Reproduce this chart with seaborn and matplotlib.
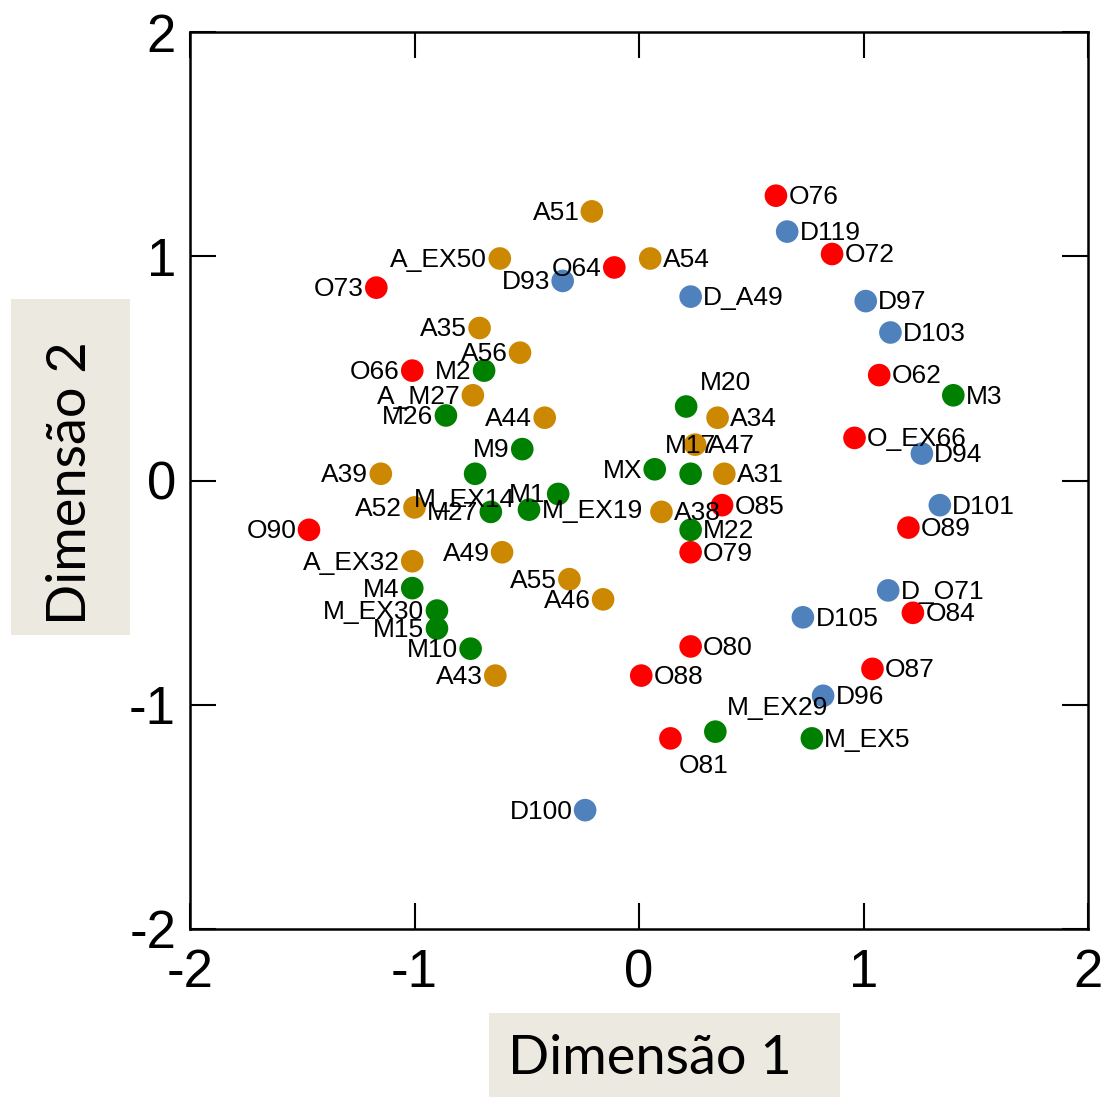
import matplotlib
matplotlib.use("Agg")
import matplotlib.pyplot as plt
import matplotlib.patches as mpatches
import seaborn as sns
import pandas as pd

# Item labels and their coordinates on the two dimensions
rotulos = [
    "O76", "O72", "O64", "O73", "O66", "O62", "O_EX66", "O85", "O90", "O89",
    "O79", "O84", "O80", "O88", "O87", "O81",
    "D119", "D93", "D_A49", "D97", "D103", "D94", "D101", "D_O71", "D105",
    "D96", "D100",
    "M2", "M26", "M20", "M9", "M3", "M_EX14", "M1", "M27", "M_EX19", "MX",
    "M17", "M22", "M4", "M_EX30", "M15", "M10", "M_EX29", "M_EX5",
    "A51", "A_EX50", "A54", "A35", "A56", "A_M27", "A44", "A34", "A47", "A31",
    "A39", "A52", "A38", "A49", "A_EX32", "A55", "A46", "A43",
]
dim1 = [
    0.61, 0.86, -0.11, -1.17, -1.01, 1.07, 0.96, 0.37, -1.47, 1.20,
    0.23, 1.22, 0.23, 0.01, 1.04, 0.14,
    0.66, -0.34, 0.23, 1.01, 1.12, 1.26, 1.34, 1.11, 0.73,
    0.82, -0.24,
    -0.69, -0.86, 0.21, -0.52, 1.40, -0.73, -0.36, -0.66, -0.49, 0.07,
    0.23, 0.23, -1.01, -0.90, -0.90, -0.75, 0.34, 0.77,
    -0.21, -0.62, 0.05, -0.71, -0.53, -0.74, -0.42, 0.35, 0.25, 0.38,
    -1.15, -1.00, 0.10, -0.61, -1.01, -0.31, -0.16, -0.64,
]
dim2 = [
    1.27, 1.01, 0.95, 0.86, 0.49, 0.47, 0.19, -0.11, -0.22, -0.21,
    -0.32, -0.59, -0.74, -0.87, -0.84, -1.15,
    1.11, 0.89, 0.82, 0.80, 0.66, 0.12, -0.11, -0.49, -0.61,
    -0.96, -1.47,
    0.49, 0.29, 0.33, 0.14, 0.38, 0.03, -0.06, -0.14, -0.13, 0.05,
    0.03, -0.22, -0.48, -0.58, -0.66, -0.75, -1.12, -1.15,
    1.20, 0.99, 0.99, 0.68, 0.57, 0.38, 0.28, 0.28, 0.16, 0.03,
    0.03, -0.12, -0.14, -0.32, -0.36, -0.44, -0.53, -0.87,
]
ticks = [-2, -1, 0, 1, 2]

cores = {"O": "#FF0000", "D": "#4F81BD", "M": "#008000", "A": "#CC8800"}

df = pd.DataFrame({"rotulo": rotulos, "dim1": dim1, "dim2": dim2})
df["grupo"] = df["rotulo"].str[0]

# Label placement: side of the marker, plus a few labels set above/below
direita = {
    "O76", "D119", "O72", "A54", "D_A49", "D97", "D103", "O62", "M3",
    "O_EX66", "D94", "A34", "A47", "A31", "O85", "D101", "O89", "M_EX19",
    "A38", "M22", "O79", "D_O71", "O84", "D105", "O80", "O88", "O87",
    "D96", "M_EX5",
}
especiais = {  # offsets in points, text centred
    "M20": (28, 17),
    "M_EX29": (45, 17),
    "M17": (0, 20),
    "O81": (24, -20),
    "M_EX14": (-8, -19),
}

sns.set_theme(style="white")
plt.rcParams["font.family"] = ["Liberation Sans", "DejaVu Sans"]
plt.rcParams["text.color"] = "black"

fig = plt.figure(figsize=(11.15, 10.97), dpi=100)
ax = fig.add_axes([190 / 1115, 1 - 929 / 1097, 898 / 1115, 897 / 1097])

sns.scatterplot(
    data=df, x="dim1", y="dim2", hue="grupo", palette=cores,
    s=265, linewidth=0, legend=False, ax=ax, zorder=3,
)

for r, x, y in zip(rotulos, dim1, dim2):
    if r in especiais:
        dx, dy = especiais[r]
        ha = "center"
    elif r in direita:
        dx, dy, ha = 9, -1, "left"
    else:
        dx, dy, ha = -9, -1, "right"
    ax.annotate(
        r, (x, y), xytext=(dx, dy), textcoords="offset points",
        ha=ha, va="center", fontsize=19, color="black", zorder=4,
    )

ax.set_xlim(-2, 2)
ax.set_ylim(-2, 2)
ax.set_xticks(ticks)
ax.set_yticks(ticks)
ax.set_xticklabels([str(t) for t in ticks])
ax.set_yticklabels([str(t) for t in ticks])
ax.set_xlabel("")
ax.set_ylabel("")
ax.tick_params(
    axis="both", direction="in", length=19, width=1.5, labelsize=38,
    top=True, right=True, colors="black", bottom=True, left=True,
)
ax.tick_params(axis="x", pad=14)
ax.tick_params(axis="y", pad=10)
for sp in ax.spines.values():
    sp.set_visible(True)
    sp.set_color("black")
    sp.set_linewidth(1.8)
ax.grid(False)
ax.set_facecolor("white")

# Shaded title boxes for the two dimensions
fundo = "#ECEAE0"
fig.patches.append(mpatches.Rectangle(
    (489 / 1115, 0), 351 / 1115, 84 / 1097, transform=fig.transFigure,
    facecolor=fundo, edgecolor="none", zorder=0))
fig.patches.append(mpatches.Rectangle(
    (11 / 1115, 1 - 635 / 1097), 119 / 1115, 336 / 1097,
    transform=fig.transFigure, facecolor=fundo, edgecolor="none", zorder=0))
fig.text(650 / 1115, 1 - 1058 / 1097, "Dimensão 1", ha="center",
         va="center", fontsize=39, color="black",
         family=["Lato", "DejaVu Sans"])
fig.text(70 / 1115, 1 - 483 / 1097, "Dimensão 2", ha="center",
         va="center", rotation=90, fontsize=39, color="black",
         family=["Lato", "DejaVu Sans"])

fig.savefig("out.png", dpi=100, facecolor="white")
